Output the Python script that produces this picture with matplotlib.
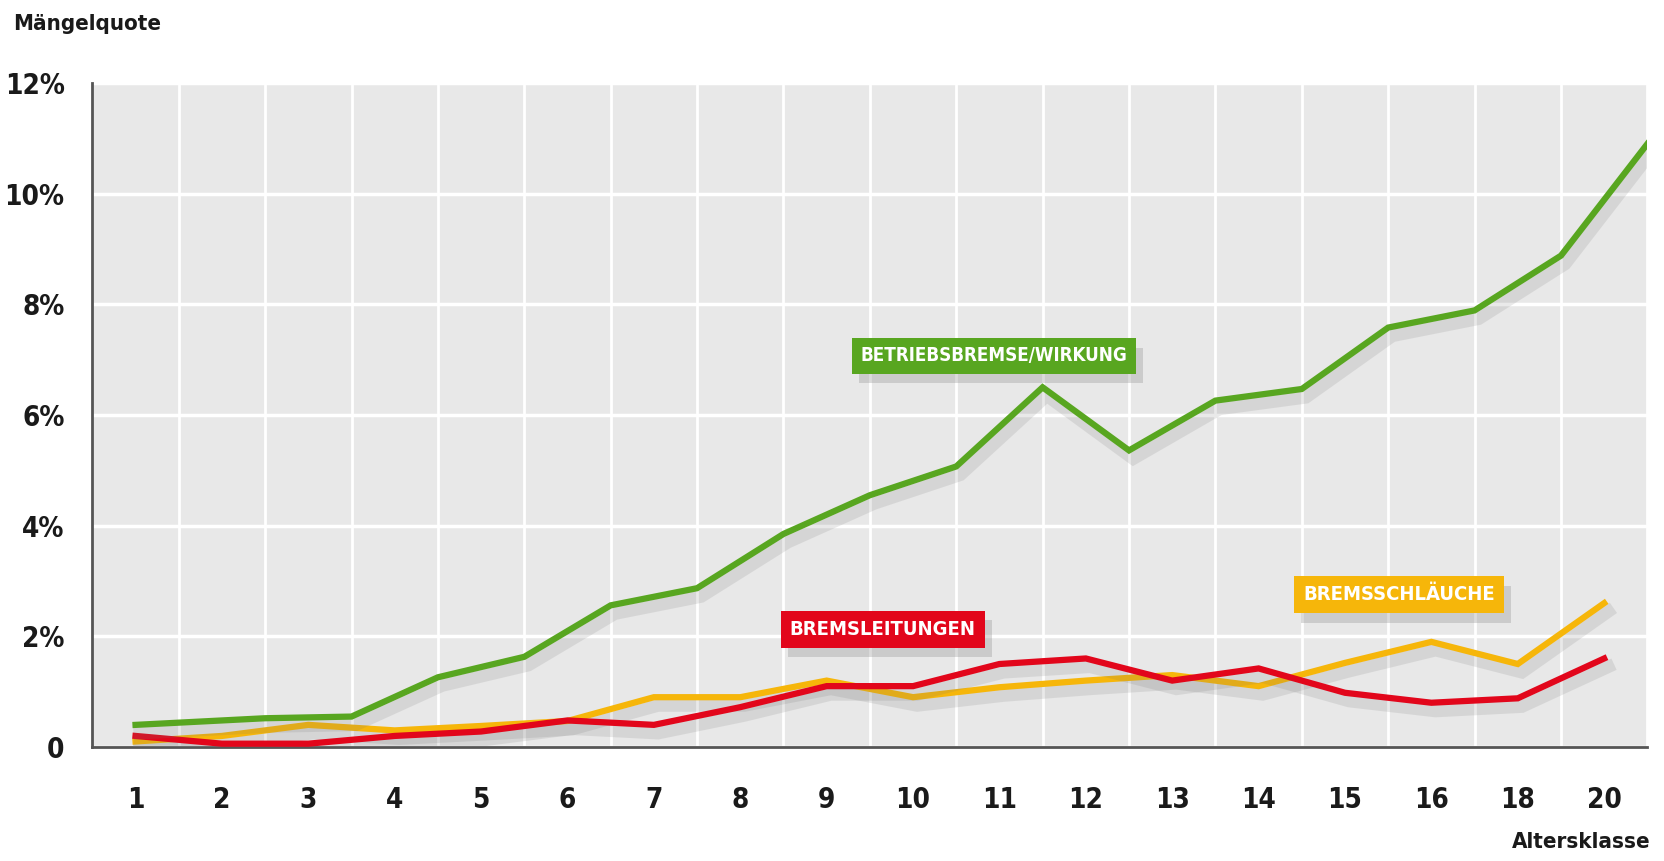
import numpy as np
import matplotlib
matplotlib.use("Agg")
import matplotlib.pyplot as plt
import matplotlib.patheffects as pe

plt.rcParams['font.family'] = ['DejaVu Sans']
plt.rcParams['font.stretch'] = 'condensed'
plt.rcParams['font.weight'] = 'bold'

# Altersklassen (x-Achse)
klassen = ['1', '2', '3', '4', '5', '6', '7', '8', '9', '10',
           '11', '12', '13', '14', '15', '16', '18', '20']

# Mängelquote in %
betriebsbremse = [0.4, 0.52, 0.55, 1.26, 1.63, 2.56, 2.87, 3.85, 4.55, 5.07,
                  6.5, 5.36, 6.26, 6.47, 7.58, 7.89, 8.88, 10.9]
bremsschlaeuche = [0.1, 0.2, 0.4, 0.3, 0.38, 0.47, 0.9, 0.9, 1.2, 0.9,
                   1.08, 1.2, 1.3, 1.1, 1.52, 1.9, 1.5, 2.6]
bremsleitungen = [0.2, 0.06, 0.06, 0.2, 0.28, 0.48, 0.4, 0.72, 1.1, 1.1,
                  1.5, 1.6, 1.2, 1.42, 0.98, 0.8, 0.88, 1.6]

GREEN = '#58a620'
YELLOW = '#f6b60a'
RED = '#e2061b'

x = np.arange(len(klassen))
# die gruene Linie ist in der Vorlage um eine halbe Klasse verschoben
x_green = np.r_[0, np.arange(1, len(klassen)) + 0.5]

fig = plt.figure(figsize=(16.64, 8.61), dpi=100)
ax = fig.add_axes([0.0555, 0.1324, 0.9345, 0.7712])
ax.set_facecolor('#e8e8e8')

shadow = [pe.SimpleLineShadow(offset=(3, -6), shadow_color='#777777', alpha=0.16, linewidth=9),
          pe.Normal()]

ax.plot(x, bremsschlaeuche, color=YELLOW, lw=4.5, solid_joinstyle='miter',
        path_effects=shadow, zorder=3)
ax.plot(x, bremsleitungen, color=RED, lw=4.5, solid_joinstyle='miter',
        path_effects=shadow, zorder=4)
ax.plot(x_green, betriebsbremse, color=GREEN, lw=4.5, solid_joinstyle='miter',
        path_effects=shadow, zorder=5)

ax.set_xlim(-0.5, len(klassen) - 0.5)
ax.set_ylim(0, 12)

ax.set_xticks(x)
ax.set_xticklabels(klassen)
ax.set_xticks(np.arange(len(klassen)) + 0.5, minor=True)
ax.set_yticks(range(0, 13, 2))
ax.set_yticklabels(['0', '2%', '4%', '6%', '8%', '10%', '12%'])

ax.tick_params(axis='both', which='both', length=0, labelsize=20, colors='#1a1a1a')
ax.tick_params(axis='x', pad=28)
ax.tick_params(axis='y', pad=20)

ax.grid(which='minor', axis='x', color='white', lw=2)
ax.grid(which='major', axis='y', color='white', lw=2.5)
ax.grid(which='major', axis='x', visible=False)
ax.set_axisbelow(True)

for s in ['top', 'right']:
    ax.spines[s].set_visible(False)
for s in ['left', 'bottom']:
    ax.spines[s].set_color('#555555')
    ax.spines[s].set_linewidth(2)


def label(xp, yp, txt, col, size):
    t = ax.text(xp, yp, txt, fontsize=size, color='white', ha='center', va='center',
                bbox=dict(boxstyle='square,pad=0.45', fc=col, ec='none'), zorder=7)
    t.get_bbox_patch().set_path_effects(
        [pe.SimplePatchShadow(offset=(5, -7), shadow_rgbFace='#888888', alpha=0.3), pe.Normal()])


label(9.94, 7.07, 'BETRIEBSBREMSE/WIRKUNG', GREEN, 13.5)
label(8.65, 2.13, 'BREMSLEITUNGEN', RED, 14.5)
label(14.63, 2.75, 'BREMSSCHLÄUCHE', YELLOW, 14.5)

fig.text(0.008, 0.972, 'Mängelquote', fontsize=16, color='#1a1a1a', ha='left', va='center')
fig.text(0.992, 0.022, 'Altersklasse', fontsize=16, color='#1a1a1a', ha='right', va='center')

fig.savefig('out.png', dpi=100, facecolor='white')
